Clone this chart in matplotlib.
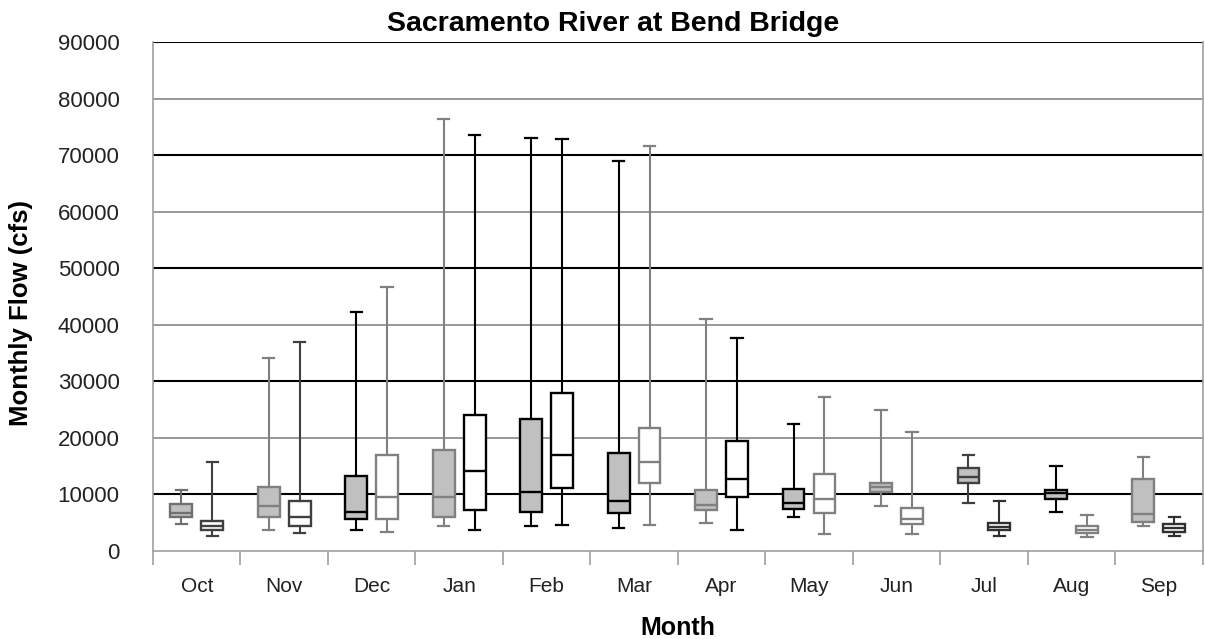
import matplotlib
matplotlib.use("Agg")
import matplotlib.pyplot as plt
import numpy as np

plt.rcParams['font.family'] = ['Liberation Sans', 'DejaVu Sans']

months = ['Oct', 'Nov', 'Dec', 'Jan', 'Feb', 'Mar', 'Apr', 'May', 'Jun', 'Jul', 'Aug', 'Sep']

# serie cinza (esquerda)
g_low = [4700, 3700, 3700, 4400, 4400, 4000, 4950, 6000, 7900, 8500, 6900, 4400]
g_q1 = [6000, 6100, 5600, 6100, 6900, 6700, 7200, 7500, 10400, 12000, 9200, 5200]
g_med = [6800, 7900, 6900, 9500, 10400, 8800, 8200, 8500, 11300, 13100, 10200, 6600]
g_q3 = [8300, 11400, 13300, 17900, 23300, 17300, 10800, 11000, 12100, 14600, 10800, 12700]
g_high = [10800, 34100, 42200, 76400, 73100, 69000, 41000, 22500, 25000, 16900, 15000, 16600]

# serie branca (direita)
w_low = [2700, 3100, 3400, 3700, 4600, 4600, 3700, 3000, 3000, 2700, 2400, 2700]
w_q1 = [3700, 4500, 5700, 7200, 11100, 12100, 9500, 6800, 4700, 3700, 3100, 3400]
w_med = [4500, 6100, 9500, 14100, 16900, 15700, 12700, 9200, 5600, 4300, 3800, 4100]
w_q3 = [5300, 8900, 16900, 24000, 27900, 21700, 19500, 13700, 7600, 5000, 4400, 4700]
w_high = [15700, 37000, 46700, 73500, 72800, 71600, 37600, 27300, 21100, 8800, 6300, 6000]

# cor das linhas de cada caixa (o original alterna preto e cinza)
g_line = ['#707070', '#808080', '#000000', '#808080', '#000000', '#000000',
          '#808080', '#000000', '#808080', '#404040', '#000000', '#808080']
w_line = ['#404040', '#404040', '#808080', '#000000', '#000000', '#808080',
          '#000000', '#808080', '#808080', '#303030', '#808080', '#303030']


def monta_stats(low, q1, med, q3, high):
    stats = []
    for i in range(len(low)):
        stats.append({'whislo': low[i], 'q1': q1[i], 'med': med[i],
                      'q3': q3[i], 'whishi': high[i], 'fliers': []})
    return stats


def desenha(ax, stats, pos, cores, face):
    for s, p, c in zip(stats, pos, cores):
        ax.bxp([s], positions=[p], widths=0.25, patch_artist=True,
               showfliers=False, manage_ticks=False,
               boxprops=dict(facecolor=face, edgecolor=c, linewidth=1.7),
               medianprops=dict(color=c, linewidth=1.7),
               whiskerprops=dict(color=c, linewidth=1.5),
               capprops=dict(color=c, linewidth=1.6),
               capwidths=0.13, zorder=3)


fig = plt.figure(figsize=(12.05, 6.39), dpi=100)
ax = fig.add_axes([0.127, 0.1377, 0.871, 0.7966])

x = np.arange(len(months))
desenha(ax, monta_stats(g_low, g_q1, g_med, g_q3, g_high), x - 0.177, g_line, '#c0c0c0')
desenha(ax, monta_stats(w_low, w_q1, w_med, w_q3, w_high), x + 0.177, w_line, 'white')

# grade alternando preto e cinza
for v in range(10000, 90001, 10000):
    if (v // 10000) % 2 == 1:
        ax.axhline(v, color='#000000', linewidth=1.5, zorder=1)
    else:
        ax.axhline(v, color='#909090', linewidth=1.3, zorder=1)

ax.set_ylim(0, 90000)
ax.set_xlim(-0.5, len(months) - 0.5)
ax.set_yticks(range(0, 90001, 10000))
ax.tick_params(axis='y', length=0, labelsize=16, pad=24, colors='#222222')
ax.set_xticks(x)
ax.set_xticklabels(months)
ax.set_xticks(np.arange(-0.5, len(months)), minor=True)
ax.tick_params(axis='x', which='major', length=0, labelsize=15, pad=19, colors='#222222')
ax.tick_params(axis='x', which='minor', length=10, width=1.2, color='#a0a0a0', direction='out')

for lado in ['left', 'bottom', 'right']:
    ax.spines[lado].set_color('#a0a0a0')
    ax.spines[lado].set_linewidth(1.2)
ax.spines['top'].set_visible(False)

ax.set_title('Sacramento River at Bend Bridge', fontsize=20.5, fontweight='bold',
             pad=8, x=0.438)
ax.set_ylabel('Monthly Flow (cfs)', fontsize=18.5, fontweight='bold')
ax.yaxis.set_label_coords(-0.114, 0.468)
ax.set_xlabel('Month', fontsize=18, fontweight='bold', labelpad=14)

fig.savefig('out.png', dpi=100)
